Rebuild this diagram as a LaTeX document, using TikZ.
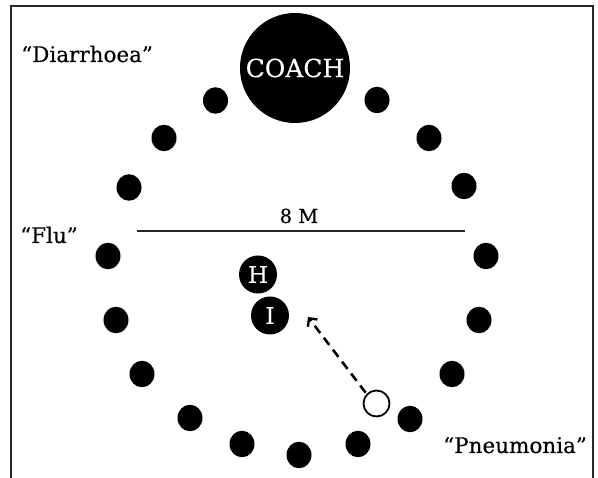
\documentclass[tikz,border=0pt]{standalone}
\usepackage{fontspec}
\setmainfont{DejaVu Serif}[FakeBold=0.35]
\newfontfamily\slab{DejaVu Serif}[FakeBold=0.35]
\usetikzlibrary{arrows.meta,shapes.geometric}
\begin{document}
\begin{tikzpicture}[x=1pt,y=-1pt,
  player/.style={fill=black,draw=none,ellipse,minimum width=25pt,minimum height=26.5pt,inner sep=0pt},
  bigdisc/.style={circle,fill=black,text=white,inner sep=0pt},
  label/.style={anchor=base west,font=\slab\fontsize{21.5pt}{24pt}\selectfont,inner sep=0pt},
  frame/.style={line width=2pt,draw=black!85}]
\useasboundingbox (0,0) rectangle (598,478);
% playing area frame (open at the bottom)
\draw[frame] (11,490) -- (11,6) -- (593,6) -- (593,490);

% coach
\node[bigdisc,minimum size=110pt,font=\slab\fontsize{25pt}{28pt}\selectfont] (coach) at (295,68) {COACH};

% ring of players
\foreach \n/\px/\py in {1/215.5/100.5, 2/164/138, 3/129/187.5, 4/108/256, 5/116/320,
  6/142/374, 7/190/418, 8/242/444, 9/299/455, 10/358/444, 11/410/419,
  12/452/374, 13/479/320, 14/486/256, 15/464/186, 16/429/138, 17/377/100}
  \node[player] (d\n) at (\px,\py) {};

% distance marker
\coordinate (mL) at (137,231);
\coordinate (mR) at (465,231);
\draw[line width=2pt,black!85] (mL) -- (mR);
\node[anchor=base,inner sep=0pt,font=\slab\fontsize{19.5pt}{22pt}\selectfont] (dist) at (299,223) {8 M};

% players in the middle
\node[bigdisc,minimum size=38pt,font=\slab\fontsize{23pt}{24pt}\selectfont] (H) at (258,274.5) {H};
\node[bigdisc,minimum size=38pt,font=\slab\fontsize{23pt}{24pt}\selectfont] (I) at (270,315.5) {I};

% runner and its path
\node[circle,draw=black,line width=1.8pt,fill=white,minimum size=26pt,inner sep=0pt] (run) at (376.5,403.5) {};
\coordinate (tip) at (308,317);
\draw[line width=2.6pt,dash pattern=on 9pt off 6pt,-{Straight Barb[length=6pt,width=12pt,line width=2.4pt]}]
  (run.north west) ++(-1,-1) -- (tip);

% labels
\node[label] (diar) at (21,62) {“Diarrhoea”};
\node[label] (flu) at (20,243) {“Flu”};
\node[label] (pneu) at (443,453) {“Pneumonia”};
\end{tikzpicture}
\end{document}
